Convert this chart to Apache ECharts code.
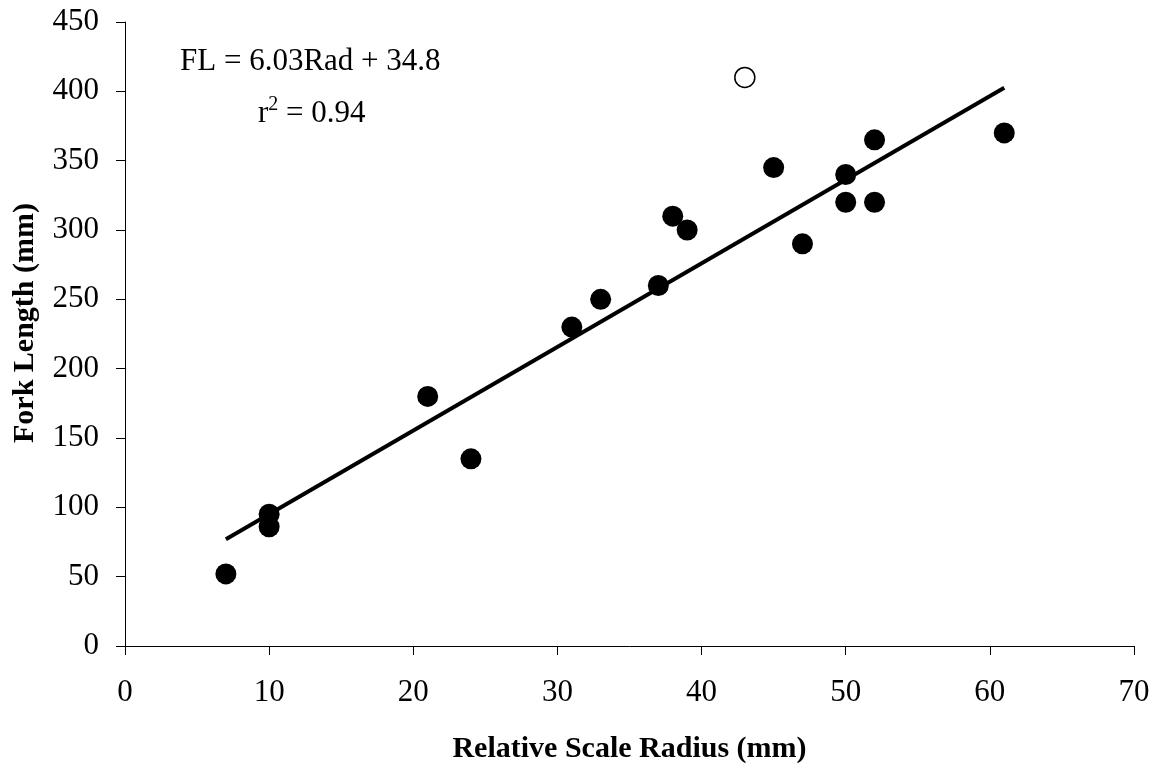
<!DOCTYPE html>
<html>
<head>
<meta charset="utf-8">
<script src="https://cdn.jsdelivr.net/npm/echarts@6/dist/echarts.min.js"></script>
<style>
  html, body { margin: 0; padding: 0; background: #fff; }
  #chart { width: 1158px; height: 766px; }
</style>
</head>
<body>
<div id="chart"></div>
<script>
// Scale radius (mm) and fork length (mm) of the fish used in the fit
const radiusFit = [7, 10, 10, 21, 24, 31, 33, 37, 38, 39, 45, 47, 50, 50, 52, 52, 61];
const lengthFit = [52, 95, 86, 180, 135, 230, 250, 260, 310, 300, 345, 290, 340, 320, 365, 320, 370];

// Fish left out of the regression
const radiusExcluded = [43];
const lengthExcluded = [410];

// Regression FL = slope * Rad + intercept
const slope = 6.03;
const intercept = 34.8;
const rSquared = 0.94;
const fitRange = [7, 61];

// Axis ticks
const xTicks = [0, 10, 20, 30, 40, 50, 60, 70];
const yTicks = [0, 50, 100, 150, 200, 250, 300, 350, 400, 450];

const xTitle = 'Relative Scale Radius (mm)';
const yTitle = 'Fork Length (mm)';

const fitted = radiusFit.map((r, i) => [r, lengthFit[i]]);
const excluded = radiusExcluded.map((r, i) => [r, lengthExcluded[i]]);
const fitLine = fitRange.map(r => [r, slope * r + intercept]);

const serif = '"Liberation Serif", "Times New Roman", serif';
const chart = echarts.init(document.getElementById('chart'), null, { renderer: 'canvas' });

const axisCommon = {
  axisLine: { show: true, lineStyle: { color: '#000', width: 1 } },
  axisTick: { show: true, inside: false, length: 9, lineStyle: { color: '#000', width: 1 } },
  splitLine: { show: false }
};

chart.setOption({
  animation: false,
  backgroundColor: '#fff',
  grid: { left: 125, right: 24, top: 22, bottom: 120, containLabel: false, outerBoundsMode: 'none' },
  xAxis: Object.assign({}, axisCommon, {
    type: 'value',
    min: xTicks[0],
    max: xTicks[xTicks.length - 1],
    interval: xTicks[1] - xTicks[0],
    name: xTitle,
    nameLocation: 'middle',
    nameGap: 88,
    nameTextStyle: { fontFamily: serif, fontWeight: 'bold', fontSize: 30, color: '#000' },
    axisLabel: { margin: 31, fontFamily: serif, fontSize: 31, color: '#000' }
  }),
  yAxis: Object.assign({}, axisCommon, {
    type: 'value',
    min: yTicks[0],
    max: yTicks[yTicks.length - 1],
    interval: yTicks[1] - yTicks[0],
    axisLabel: { margin: 26, fontFamily: serif, fontSize: 31, color: '#000' }
  }),
  graphic: [
    {
      type: 'text',
      x: 25,
      y: 323,
      rotation: Math.PI / 2,
      style: {
        text: yTitle,
        font: 'bold 30px ' + serif,
        fill: '#000',
        align: 'center',
        verticalAlign: 'middle'
      }
    },
    {
      type: 'text',
      x: 180,
      y: 62,
      style: {
        text: 'FL = ' + slope.toFixed(2) + 'Rad + ' + intercept.toFixed(1),
        font: '31px ' + serif,
        fill: '#000',
        verticalAlign: 'middle'
      }
    },
    {
      type: 'text',
      left: 258,
      top: 95,
      style: {
        text: '{b|r}{s|2}{b| = ' + rSquared.toFixed(2) + '}',
        rich: {
          b: { font: '31px ' + serif, fill: '#000', verticalAlign: 'bottom' },
          s: { font: '20px ' + serif, fill: '#000', verticalAlign: 'top', padding: [0, 0, 14, 0] }
        }
      }
    }
  ],
  series: [
    {
      type: 'line',
      data: fitLine,
      symbol: 'none',
      lineStyle: { color: '#000', width: 4 },
      z: 2
    },
    {
      type: 'scatter',
      data: fitted,
      symbol: 'circle',
      symbolSize: 21,
      itemStyle: { color: '#000', opacity: 1 },
      z: 3
    },
    {
      type: 'scatter',
      data: excluded,
      symbol: 'circle',
      symbolSize: 20,
      itemStyle: { color: '#fff', borderColor: '#000', borderWidth: 1.5, opacity: 1 },
      z: 3
    }
  ]
});
</script>
</body>
</html>
